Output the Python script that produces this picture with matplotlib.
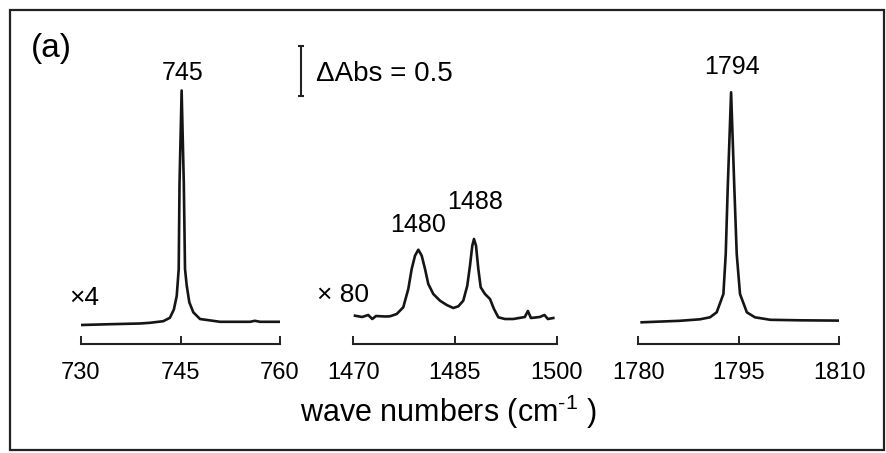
import numpy as np
import matplotlib
matplotlib.use("Agg")
import matplotlib.pyplot as plt
from matplotlib.patches import Rectangle

plt.rcParams['font.family'] = ['Liberation Sans', 'DejaVu Sans']
plt.rcParams['mathtext.fontset'] = 'custom'
plt.rcParams['mathtext.rm'] = 'Liberation Sans'
plt.rcParams['mathtext.it'] = 'Liberation Sans'

# band 1 (x4)
wn1 = [730.0, 734.4, 738.9, 740.4, 742.4, 743.4, 744.0, 744.43, 744.62, 744.73, 744.85,
       745.17, 745.5, 745.68, 745.94, 746.33, 746.93, 747.94, 750.96, 754.0, 755.5,
       756.2, 757.0, 760.0]
ab1 = [0.19, 0.198, 0.205, 0.212, 0.228, 0.262, 0.345, 0.48, 0.65, 0.75, 1.60,
       2.535, 1.60, 0.75, 0.583, 0.417, 0.317, 0.25, 0.222, 0.222, 0.222,
       0.232, 0.222, 0.222]

# band 2 (x80)
wn2 = [1470.25, 1471.3, 1472.2, 1472.8, 1473.35, 1474.7, 1475.41, 1476.40, 1477.37,
       1478.11, 1478.61, 1479.10, 1479.59, 1480.09, 1480.58, 1481.06, 1481.80,
       1482.79, 1483.78, 1484.75, 1485.49, 1486.22, 1486.81, 1487.21, 1487.55,
       1487.80, 1488.10, 1488.44, 1488.79, 1489.42, 1490.16, 1490.75, 1491.39,
       1492.37, 1493.6, 1495.3, 1495.75, 1496.2, 1497.5, 1498.2, 1498.7, 1499.5]
ab2 = [0.283, 0.27, 0.29, 0.25, 0.28, 0.275, 0.277, 0.30, 0.367,
       0.55, 0.75, 0.883, 0.943, 0.883, 0.75, 0.60, 0.50,
       0.433, 0.39, 0.36, 0.377, 0.433, 0.583, 0.783, 0.983,
       1.05, 0.983, 0.75, 0.567, 0.50, 0.45, 0.35, 0.267,
       0.25, 0.25, 0.27, 0.33, 0.26, 0.27, 0.29, 0.25, 0.26]

# band 3
wn3 = [1780.5, 1786.2, 1789.2, 1790.7, 1791.7, 1792.7, 1793.05, 1793.35, 1793.85,
       1794.33, 1794.69, 1795.18, 1796.2, 1797.4, 1799.7, 1804.1, 1809.85]
ab3 = [0.217, 0.232, 0.247, 0.267, 0.317, 0.50, 0.90, 1.567, 2.517,
       1.567, 0.90, 0.50, 0.317, 0.267, 0.242, 0.237, 0.234]

ranges = [(730, 760), (1470, 1500), (1780, 1810)]
ticks = [[730, 745, 760], [1470, 1485, 1500], [1780, 1795, 1810]]
factors = ["\u00d74", "\u00d7 80", None]

W, H = 887, 453
fig = plt.figure(figsize=(W / 100, H / 100), dpi=100)


def fx(x):
    return x / W


def fy(y):
    return 1 - y / H


ax_left = [81, 353.3, 638.3]
ax_right = [280, 556.7, 839.3]
bot, top = 344, 44
axes = []
for i in range(3):
    ax = fig.add_axes([fx(ax_left[i]), fy(bot), (ax_right[i] - ax_left[i]) / W, (bot - top) / H])
    ax.set_xlim(*ranges[i])
    ax.set_ylim(0, 3.0)
    for s in ['top', 'left', 'right']:
        ax.spines[s].set_visible(False)
    ax.spines['bottom'].set_linewidth(1.5)
    ax.spines['bottom'].set_color('#222222')
    ax.set_yticks([])
    ax.set_xticks(ticks[i])
    ax.tick_params(axis='x', direction='in', length=6, width=1.4, color='#222222',
                   labelsize=17, pad=13)
    ax.patch.set_alpha(0)
    axes.append(ax)

data = [(wn1, ab1), (wn2, ab2), (wn3, ab3)]
for ax, (w, a) in zip(axes, data):
    ax.plot(w, a, color='#151515', lw=1.9, solid_joinstyle='round')

# peak labels
w1, a1 = np.array(wn1), np.array(ab1)
k = np.argmax(a1)
axes[0].annotate("745", xy=(w1[k], a1[k]), xytext=(1, 11), textcoords='offset pixels',
                 ha='center', va='baseline', fontsize=18)

w2, a2 = np.array(wn2), np.array(ab2)
m = w2 < 1485
k1 = np.argmax(np.where(m, a2, 0))
k2 = np.argmax(np.where(~m, a2, 0))
axes[1].annotate("1480", xy=(w2[k1], a2[k1]), xytext=(0, 18), textcoords='offset pixels',
                 ha='center', va='baseline', fontsize=18)
axes[1].annotate("1488", xy=(w2[k2], a2[k2]), xytext=(1, 30), textcoords='offset pixels',
                 ha='center', va='baseline', fontsize=18)

w3, a3 = np.array(wn3), np.array(ab3)
k = np.argmax(a3)
axes[2].annotate("1794", xy=(w3[k], a3[k]), xytext=(1, 18), textcoords='offset pixels',
                 ha='center', va='baseline', fontsize=18)

# scale bar: 0.5 absorbance
axes[0].errorbar([763.2], [2.73], yerr=[0.25], color='#222222', capsize=2.5,
                 elinewidth=1.5, capthick=1.5, clip_on=False)
fig.text(fx(316), fy(74), "\u0394Abs = 0.5", fontsize=20, ha='left', va='center')

fig.text(fx(31), fy(49), "(a)", fontsize=24, ha='left', va='center')
fig.text(fx(69), fy(298), factors[0], fontsize=19, ha='left', va='center')
fig.text(fx(317), fy(295), factors[1], fontsize=19, ha='left', va='center')

fig.text(fx(448), fy(412), "wave numbers (cm$^{\\text{-1}}$ )", fontsize=22,
         ha='center', va='center')

fig.patches.append(Rectangle((fx(10), fy(450)), (884 - 10) / W, (450 - 10) / H,
                             transform=fig.transFigure, fill=False, lw=1.6,
                             edgecolor='#222222'))

fig.savefig("out.png", dpi=100)
